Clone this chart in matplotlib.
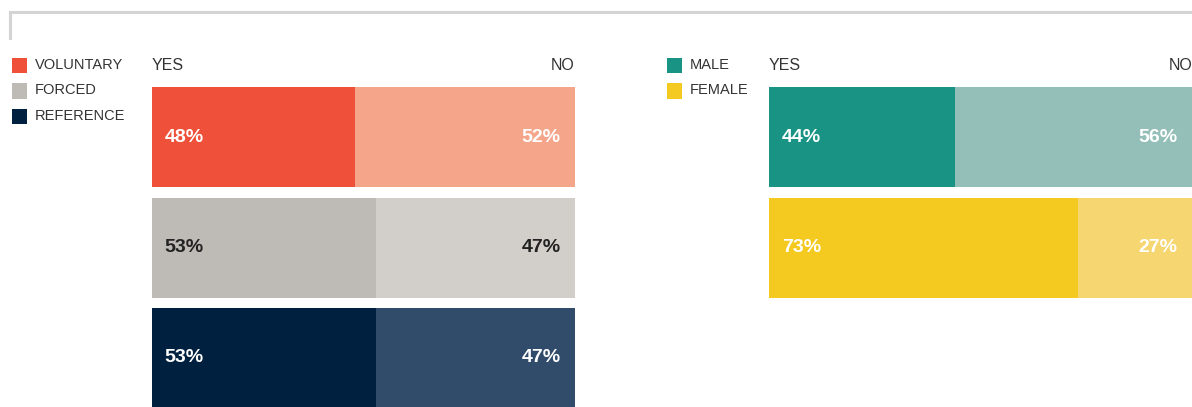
import matplotlib.pyplot as plt
from matplotlib.patches import Rectangle
from matplotlib.lines import Line2D
from matplotlib import font_manager

# data
left_groups = ["VOLUNTARY", "FORCED", "REFERENCE"]
left_yes = [48, 53, 53]
left_no = [52, 47, 47]
left_dark = ["#EF5039", "#BEBAB5", "#00203F"]
left_light = ["#F5A58A", "#D2CFCA", "#304C6A"]
left_text = ["white", "#222222", "white"]

right_groups = ["MALE", "FEMALE"]
right_yes = [44, 73]
right_no = [56, 27]
right_dark = ["#189384", "#F4CA20"]
right_light = ["#93BFB8", "#F6D670"]
right_text = ["white", "white"]

W, H = 1192, 407
names = {f.name for f in font_manager.fontManager.ttflist}
fam = [f for f in ["Liberation Sans Narrow", "Liberation Sans", "DejaVu Sans"] if f in names]
plt.rcParams["font.family"] = fam

fig = plt.figure(figsize=(W / 100, H / 100), dpi=100)


def fx(px):
    return px / W


def fy(py):
    return 1 - py / H


# top frame line
fig.add_artist(Line2D([fx(10), fx(10), 1.0], [fy(38), fy(12), fy(12)],
                      color="#D4D4D4", lw=2.2, solid_joinstyle="miter"))

pitch = 110.5
bar_h = 100 / pitch
top_px, first_center = 87, 137
ylim = ((H - first_center) / pitch, -bar_h / 2)


def panel(x0, groups, yes, no, dark, light, tcol, leg_x):
    ax = fig.add_axes([fx(x0), 0, fx(423), fy(top_px)])
    idx = range(len(groups))
    ax.barh(idx, yes, height=bar_h, color=dark, linewidth=0)
    ax.barh(idx, no, left=yes, height=bar_h, color=light, linewidth=0)
    for i in idx:
        ax.text(3, i, f"{yes[i]}%", color=tcol[i], fontsize=14, fontweight="bold",
                ha="left", va="center")
        ax.text(96.6, i, f"{no[i]}%", color=tcol[i], fontsize=14, fontweight="bold",
                ha="right", va="center")
    ax.set_xlim(0, 100)
    ax.set_ylim(*ylim)
    ax.axis("off")
    fig.text(fx(x0), fy(65), "YES", fontsize=11.5, color="#333333", ha="left", va="center")
    fig.text(fx(x0 + 423), fy(65), "NO", fontsize=11.5, color="#333333", ha="right", va="center")
    # legend
    for i, g in enumerate(groups):
        yc = 65 + 25.5 * i
        fig.add_artist(Rectangle((fx(leg_x), fy(yc + 8)), fx(15), 15 / H,
                                 color=dark[i], lw=0))
        fig.text(fx(leg_x + 23), fy(yc), g, fontsize=10.5, color="#333333",
                 ha="left", va="center")


panel(152, left_groups, left_yes, left_no, left_dark, left_light, left_text, 12)
panel(769, right_groups, right_yes, right_no, right_dark, right_light, right_text, 667)

fig.savefig("out.png", dpi=100)
